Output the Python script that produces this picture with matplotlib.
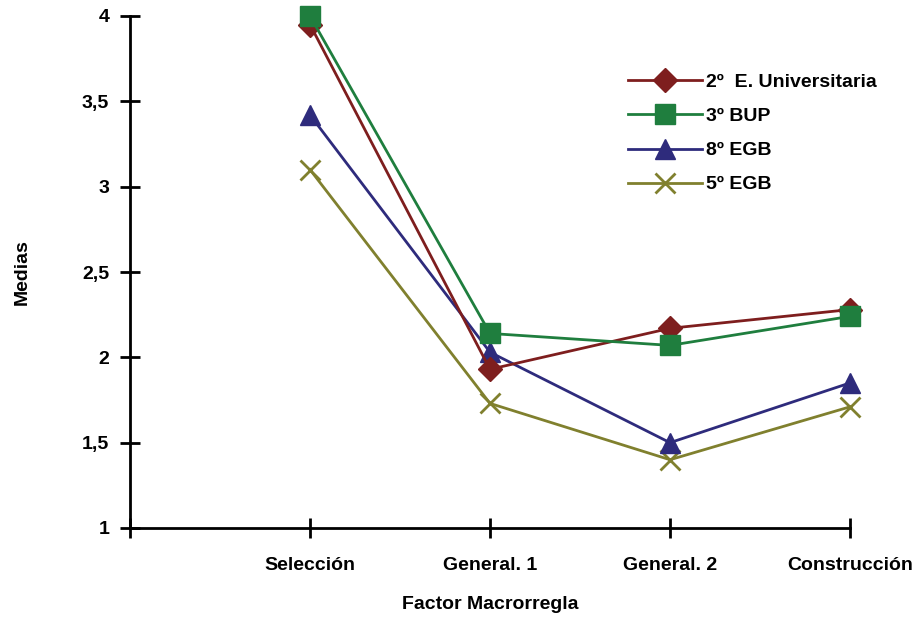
import matplotlib
matplotlib.use("Agg")
import matplotlib.pyplot as plt

# data
categorias = ["Selección", "General. 1", "General. 2", "Construcción"]
universitaria = [3.95, 1.93, 2.17, 2.28]
bup = [4.0, 2.14, 2.07, 2.24]
egb8 = [3.42, 2.03, 1.50, 1.85]
egb5 = [3.10, 1.73, 1.40, 1.71]

plt.rcParams['font.family'] = ['Liberation Sans', 'DejaVu Sans']
plt.rcParams['font.weight'] = 'bold'

fig = plt.figure(figsize=(9.21, 6.18), dpi=100)
ax = fig.add_axes([130/921, 90/618, 720/921, 512/618])

x = [1, 2, 3, 4]
ax.plot(x, egb5, color="#80802E", marker="x", markersize=15, mew=2, lw=2, label="5º EGB", zorder=2, clip_on=False)
ax.plot(x, egb8, color="#2E2B7C", marker="^", markersize=15, lw=2, label="8º EGB", zorder=3, clip_on=False)
ax.plot(x, universitaria, color="#7E1E1E", marker="D", markersize=12, lw=2, label="2º  E. Universitaria", zorder=4, clip_on=False)
ax.plot(x, bup, color="#1F7E3E", marker="s", markersize=14, lw=2, label="3º BUP", zorder=5, clip_on=False)

ax.set_xlim(0, 4)
ax.set_ylim(1, 4)
ax.set_xticks([0, 1, 2, 3, 4])
ax.set_xticklabels([""] + categorias, fontsize=14, fontweight="bold")
ax.set_yticks([1, 1.5, 2, 2.5, 3, 3.5, 4])
ax.set_yticklabels(["1", "1,5", "2", "2,5", "3", "3,5", "4"], fontsize=14, fontweight="bold")
ax.tick_params(axis="both", direction="inout", length=14, width=2)
ax.tick_params(axis="x", pad=14)
ax.tick_params(axis="y", pad=8)

for s in ["top", "right"]:
    ax.spines[s].set_visible(False)
for s in ["left", "bottom"]:
    ax.spines[s].set_linewidth(2)

ax.set_xlabel("Factor Macrorregla", fontsize=14, fontweight="bold", labelpad=16)
ax.set_ylabel("Medias", fontsize=14, fontweight="bold", labelpad=37)

h, l = ax.get_legend_handles_labels()
order = [2, 3, 1, 0]
ax.legend([h[i] for i in order], [l[i] for i in order], loc="upper left",
          bbox_to_anchor=(0.667, 0.922), frameon=False, fontsize=14,
          handlelength=3.8, labelspacing=0.85, handletextpad=0.25)

fig.savefig("out.png", dpi=100)
